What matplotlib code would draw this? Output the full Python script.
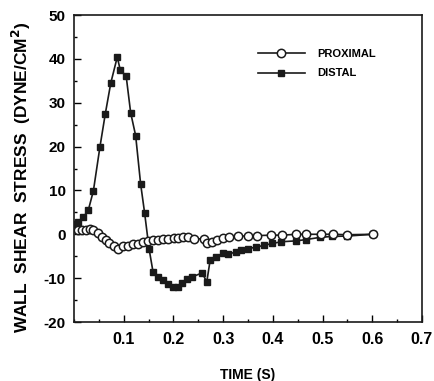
import matplotlib
matplotlib.use("Agg")
import matplotlib.pyplot as plt
from matplotlib.ticker import MultipleLocator

plt.rcParams['font.family'] = ['Liberation Sans', 'DejaVu Sans']
plt.rcParams['font.weight'] = 'bold'

# Proximal (open circles)
prox_t = [0.008, 0.016, 0.024, 0.033, 0.039, 0.048, 0.056, 0.064, 0.071, 0.080,
          0.088, 0.098, 0.108, 0.118, 0.128, 0.138, 0.148, 0.159, 0.169, 0.180,
          0.190, 0.201, 0.210, 0.220, 0.230, 0.241, 0.261, 0.268, 0.278, 0.288,
          0.299, 0.311, 0.329, 0.349, 0.369, 0.396, 0.419, 0.447, 0.467, 0.497,
          0.520, 0.550, 0.601]
prox_v = [0.9, 0.9, 0.9, 1.1, 1.0, 0.2, -0.6, -1.4, -2.0, -2.6,
          -3.3, -2.6, -2.7, -2.2, -2.2, -1.8, -1.5, -1.2, -1.2, -1.0,
          -1.0, -0.8, -0.8, -0.6, -0.7, -1.1, -1.0, -2.1, -1.7, -1.2,
          -0.75, -0.6, -0.4, -0.4, -0.3, -0.2, -0.2, 0.0, 0.0, 0.0,
          0.0, -0.1, 0.0]

# Distal (filled squares)
dist_t = [0.000, 0.009, 0.019, 0.029, 0.039, 0.052, 0.063, 0.074, 0.087, 0.093,
          0.105, 0.114, 0.124, 0.134, 0.142, 0.151, 0.159, 0.169, 0.179, 0.189,
          0.199, 0.209, 0.218, 0.228, 0.238, 0.258, 0.267, 0.274, 0.286, 0.299,
          0.309, 0.326, 0.336, 0.350, 0.367, 0.383, 0.399, 0.417, 0.447, 0.467,
          0.495, 0.518, 0.550, 0.601]
dist_v = [2.3, 2.8, 3.9, 5.6, 9.9, 19.8, 27.5, 34.5, 40.4, 37.5,
          36.0, 27.7, 22.5, 11.5, 4.9, -3.3, -8.6, -9.7, -10.5, -11.4,
          -12.0, -12.1, -11.2, -10.1, -9.7, -8.8, -10.9, -5.8, -5.2, -4.3,
          -4.6, -4.0, -3.6, -3.3, -2.9, -2.5, -2.1, -1.7, -1.5, -1.2,
          -0.7, -0.5, -0.4, 0.0]

x_ticks = [0.1, 0.2, 0.3, 0.4, 0.5, 0.6, 0.7]
y_ticks = [-20, -10, 0, 10, 20, 30, 40, 50]

fig = plt.figure(figsize=(4.35, 3.81), dpi=100)
ax = fig.add_axes([74/435, 1-322/381, 348/435, 307/381])

ink = '#1a1a1a'
ax.plot(dist_t, dist_v, '-', color=ink, lw=1.2, marker='s', ms=4.0,
        mfc=ink, mec=ink, label='DISTAL', zorder=3)
ax.plot(prox_t, prox_v, '-', color=ink, lw=1.2, marker='o', ms=6.0,
        mfc='white', mec=ink, mew=1.1, label='PROXIMAL', zorder=4)

ax.set_xlim(0, 0.7)
ax.set_ylim(-20, 50)
ax.set_xticks(x_ticks)
ax.set_xticklabels([f'{v:.1f}' for v in x_ticks])
ax.set_yticks(y_ticks)
ax.set_yticklabels([str(v) for v in y_ticks])
ax.xaxis.set_minor_locator(MultipleLocator(0.05))
ax.yaxis.set_minor_locator(MultipleLocator(5))
ax.tick_params(axis='x', which='major', direction='in', length=5, width=1.0,
               labelsize=11.5, top=False, pad=7)
ax.tick_params(axis='y', which='major', direction='in', length=5, width=1.0,
               labelsize=11, right=False, pad=6)
ax.tick_params(which='minor', direction='in', length=2.5, width=1.0,
               top=False, right=False)
for sp in ax.spines.values():
    sp.set_linewidth(1.2)
    sp.set_color(ink)

ax.set_xlabel('TIME (S)', fontsize=10, fontweight='bold', labelpad=15)
ax.set_ylabel('WALL  SHEAR  STRESS  (DYNE/CM$^\\mathbf{2}$)', fontsize=12.5,
              fontweight='bold')
ax.yaxis.set_label_coords(-0.118, 0.472)

handles, labels = ax.get_legend_handles_labels()
leg = ax.legend(handles[::-1], labels[::-1], loc='upper left',
                bbox_to_anchor=(0.50, 0.922), frameon=False, fontsize=8,
                handlelength=4.2, labelspacing=0.85, handletextpad=1.1)

fig.savefig('out.png', dpi=100)
